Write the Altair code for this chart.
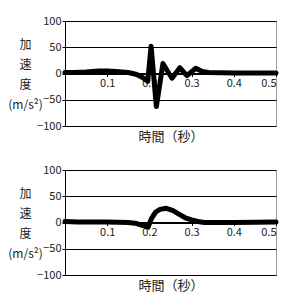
import altair as alt
import pandas as pd

# Top panel
t_top = [0.0, 0.02, 0.05, 0.08, 0.1, 0.12, 0.15, 0.17, 0.185, 0.196, 0.204, 0.2165,
         0.232, 0.2535, 0.272, 0.289, 0.31, 0.325, 0.34, 0.4, 0.5]
a_top = [2, 2, 3, 5, 5, 4, 2, -2, -8, -15, 52, -63, 19, -9, 11, -4, 10, 4, 2, 1, 1]

# Bottom panel
t_bot = [0.0, 0.03, 0.1, 0.15, 0.17, 0.185, 0.197, 0.205, 0.215, 0.225, 0.24, 0.255,
         0.27, 0.285, 0.3, 0.315, 0.33, 0.4, 0.5]
a_bot = [2, 1, 1, 0, -2, -6, -9, 8, 20, 25, 27, 23, 16, 9, 5, 2, 0, 0, 1]

x_ticks = [0.1, 0.2, 0.3, 0.4, 0.5]
y_ticks = [-100, -50, 0, 50, 100]
y_title = ["加", "速", "度", "(m/s²)"]
x_title = "時間（秒）"

FONT = "Noto Sans CJK JP"
W, H = 211, 105


def panel(ts, vals):
    df = pd.DataFrame({"t": ts, "a": vals})
    base = alt.Chart(df)
    x = alt.X("t:Q", scale=alt.Scale(domain=[0, 0.5], nice=False),
              axis=alt.Axis(values=x_ticks, format=".1f", grid=False, domain=False,
                            offset=-(H / 2 + 3), tickSize=6, tickColor="#000",
                            labelPadding=1, labelFontSize=11, labelColor="#222",
                            labelFont=FONT, title=x_title, titleFont=FONT,
                            titleFontSize=13, titleFontWeight="normal",
                            titleColor="#222", titleY=H / 2 + 13,
                            titleBaseline="middle", labelOverlap=False))
    y = alt.Y("a:Q", scale=alt.Scale(domain=[-100, 100], nice=False),
              axis=alt.Axis(values=y_ticks, grid=True, gridColor="#000",
                            gridWidth=1, gridOpacity=1, domainColor="#000",
                            tickColor="#000", tickSize=3, labelPadding=1,
                            labelFontSize=11, labelColor="#222", labelFont=FONT,
                            labelOverlap=False, title=y_title,
                            titleFont=FONT, titleFontSize=12,
                            titleFontWeight="normal", titleColor="#222",
                            titleAngle=0, titleAlign="center",
                            titleBaseline="middle", titleX=-40, titleY=23,
                            titleLineHeight=20))
    zero = alt.Chart(pd.DataFrame({"z": [0]})).mark_rule(color="#000", strokeWidth=1).encode(
        y=alt.Y("z:Q", axis=None, scale=alt.Scale(domain=[-100, 100], nice=False)))
    line = base.mark_line(color="#000", strokeWidth=5, strokeJoin="round",
                          strokeCap="round").encode(x=x, y=y)
    return alt.layer(line, zero).resolve_scale(y="independent").properties(width=W, height=H)


chart = alt.vconcat(panel(t_top, a_top), panel(t_bot, a_bot), spacing=19).configure_view(
    stroke="#999", strokeWidth=1
).properties(padding={"left": 7, "top": 14, "right": 5, "bottom": 5})

chart.save("out.html", embed_options={"renderer": "svg", "actions": False})
